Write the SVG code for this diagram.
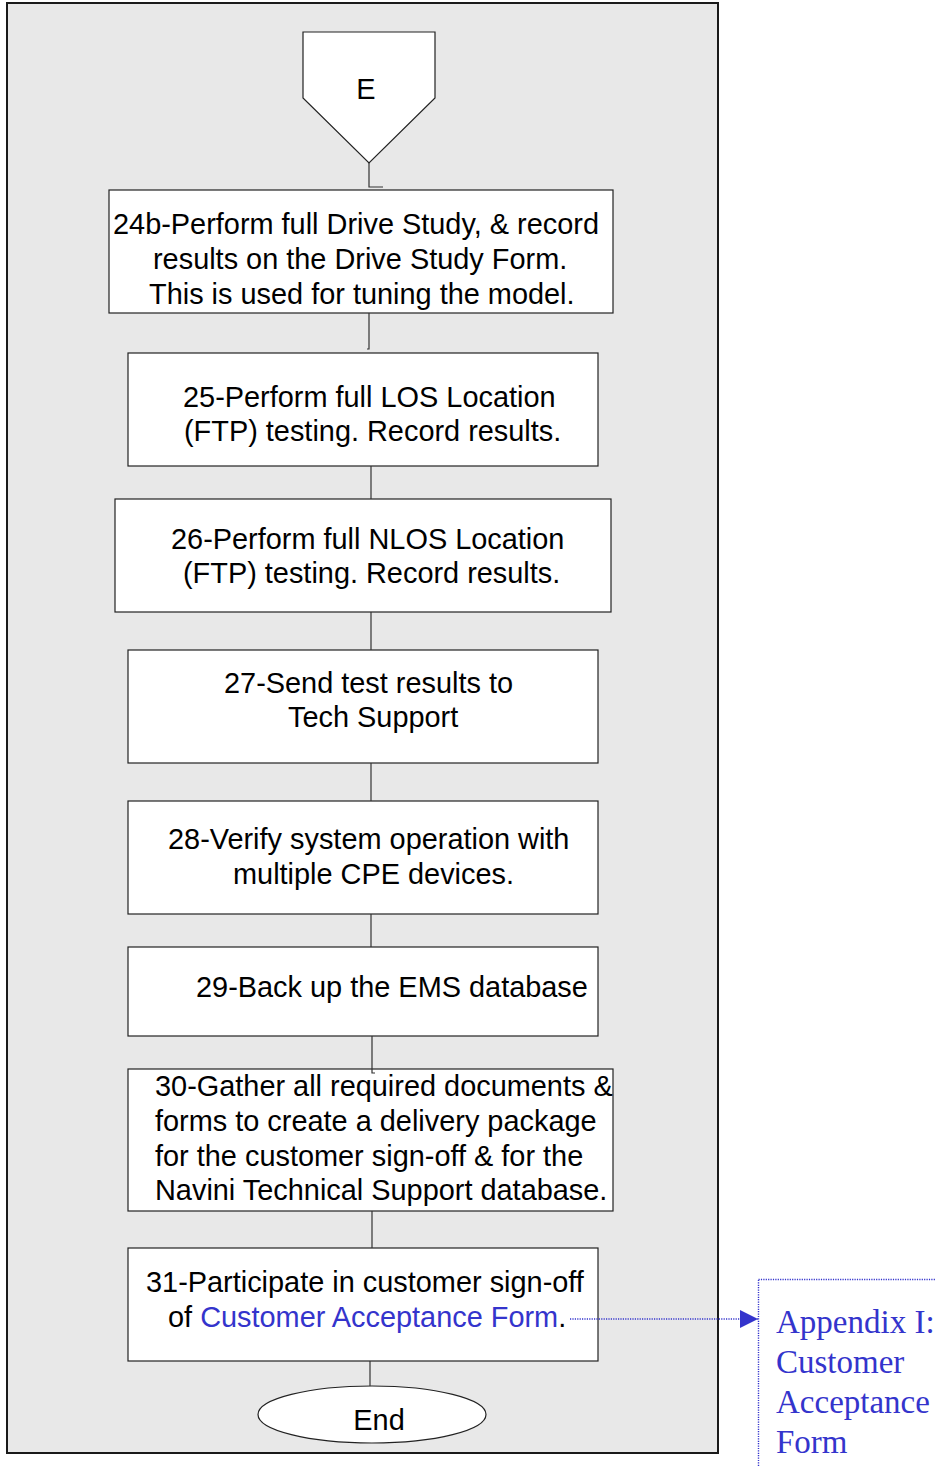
<svg xmlns="http://www.w3.org/2000/svg" width="935" height="1466" viewBox="0 0 935 1466">
  <style>
    .frame { fill: #e8e8e8; stroke: #1a1a1a; stroke-width: 2; }
    .box { fill: #ffffff; stroke: #222222; stroke-width: 1.2; }
    .lbl { font-family: "Liberation Sans", Arial, sans-serif; font-size: 28.9px; fill: #000000; }
    .link { fill: #3434cc; }
    .conn { fill: none; stroke: #333333; stroke-width: 1.2; }
    .ref { fill: none; stroke: #3434cc; stroke-width: 1.4; stroke-dasharray: 1.2 1.2; }
    .appx { font-family: "Liberation Serif", "Times New Roman", serif; font-size: 33px; fill: #3434cc; }
  </style>
  <defs>
    <marker id="refArrow" markerWidth="18" markerHeight="18" refX="18" refY="9" orient="auto" markerUnits="userSpaceOnUse">
      <path d="M0,0 L18,9 L0,18 Z" fill="#3434cc"/>
    </marker>
  </defs>

  <!-- background frame -->
  <rect class="frame" x="7" y="3" width="711" height="1450"/>

  <!-- off-page connector E -->
  <g id="node-E">
    <polygon class="box" points="303,32 435,32 435,98 369,163 303,98"/>
    <text class="lbl" x="366" y="99" text-anchor="middle">E</text>
  </g>

  <g id="node-24b">
    <rect class="box" x="109" y="190" width="504" height="123"/>
    <text class="lbl" x="113" y="234">24b-Perform full Drive Study, &amp; record</text>
    <text class="lbl" x="153" y="269">results on the Drive Study Form.</text>
    <text class="lbl" x="149" y="304">This is used for tuning the model.</text>
  </g>

  <g id="node-25">
    <rect class="box" x="128" y="353" width="470" height="113"/>
    <text class="lbl" x="183" y="407">25-Perform full LOS Location</text>
    <text class="lbl" x="184" y="441">(FTP) testing. Record results.</text>
  </g>

  <g id="node-26">
    <rect class="box" x="115" y="499" width="496" height="113"/>
    <text class="lbl" x="171" y="549">26-Perform full NLOS Location</text>
    <text class="lbl" x="183" y="583">(FTP) testing. Record results.</text>
  </g>

  <g id="node-27">
    <rect class="box" x="128" y="650" width="470" height="113"/>
    <text class="lbl" x="224" y="693">27-Send test results to</text>
    <text class="lbl" x="288" y="727">Tech Support</text>
  </g>

  <g id="node-28">
    <rect class="box" x="128" y="801" width="470" height="113"/>
    <text class="lbl" x="168" y="849">28-Verify system operation with</text>
    <text class="lbl" x="233" y="884">multiple CPE devices.</text>
  </g>

  <g id="node-29">
    <rect class="box" x="128" y="947" width="470" height="89"/>
    <text class="lbl" x="196" y="997">29-Back up the EMS database</text>
  </g>

  <g id="node-30">
    <rect class="box" x="128" y="1069" width="485" height="142"/>
    <text class="lbl" x="155" y="1096">30-Gather all required documents &amp;</text>
    <text class="lbl" x="155" y="1131">forms to create a delivery package</text>
    <text class="lbl" x="155" y="1166">for the customer sign-off &amp; for the</text>
    <text class="lbl" x="155" y="1200">Navini Technical Support database.</text>
  </g>

  <g id="node-31">
    <rect class="box" x="128" y="1248" width="470" height="113"/>
    <text class="lbl" x="146" y="1292">31-Participate in customer sign-off</text>
    <text class="lbl" x="168" y="1327">of <tspan class="link">Customer Acceptance Form</tspan>.</text>
  </g>

  <g id="node-end">
    <ellipse class="box" cx="372" cy="1414.5" rx="114" ry="28.5"/>
    <text class="lbl" x="379" y="1430" text-anchor="middle">End</text>
  </g>

  <!-- referenced appendix -->
  <g id="node-appendix">
    <rect class="ref" x="758.5" y="1279.5" width="220" height="220"/>
    <text class="appx" x="776" y="1333">Appendix I:</text>
    <text class="appx" x="776" y="1373">Customer</text>
    <text class="appx" x="776" y="1413">Acceptance</text>
    <text class="appx" x="776" y="1453">Form</text>
  </g>

  <!-- connectors, drawn last so the reference link shows over box 31 -->
  <g id="connectors">
    <path class="conn" d="M369 163 V187 H383"/>
    <path class="conn" d="M369 313 V349 H367"/>
    <path class="conn" d="M371 466 V499"/>
    <path class="conn" d="M371 612 V650"/>
    <path class="conn" d="M371 763 V801"/>
    <path class="conn" d="M371 914 V947"/>
    <path class="conn" d="M372 1036 V1073 H375"/>
    <path class="conn" d="M372 1211 V1248"/>
    <path class="conn" d="M370 1361 V1386"/>
    <path class="ref" d="M570 1319 H758" marker-end="url(#refArrow)"/>
  </g>
</svg>
